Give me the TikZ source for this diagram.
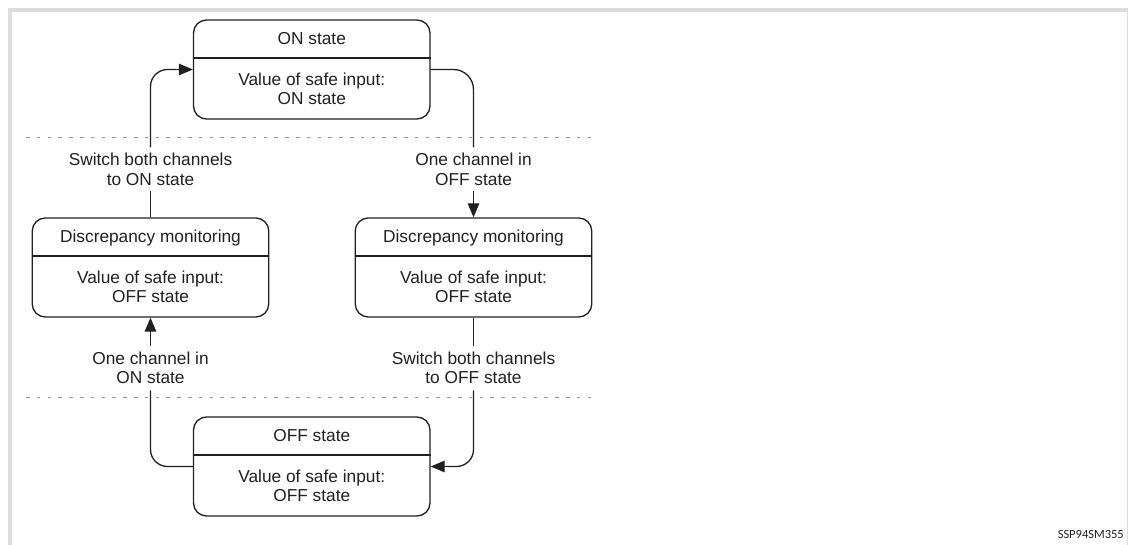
\documentclass[tikz,border=0pt]{standalone}
\usepackage{fontspec}
\setmainfont{Liberation Sans}
\newfontfamily\codefont{Carlito}
\usetikzlibrary{arrows.meta}
\definecolor{ink}{RGB}{35,31,32}
\definecolor{framegray}{RGB}{221,221,221}
\definecolor{dotgray}{RGB}{150,150,150}
\begin{document}
\begin{tikzpicture}[x=1pt,y=-1pt,
  every node/.style={text=ink},
  txt/.style={font=\fontsize{17.3}{19.4}\selectfont, align=center, inner sep=0pt},
  statebox/.style={draw=ink, line width=1.3pt, rounded corners=13pt, minimum width=236.5pt, minimum height=99pt, inner sep=0pt},
  lbl/.style={txt, inner xsep=2pt, inner ysep=5.5pt},
  conn/.style={draw=ink, line width=1.3pt},
  arr/.style={conn, -{Triangle[length=14pt,width=11.5pt]}},
  divider/.style={draw=ink, line width=1.1pt},
  sepline/.style={draw=dotgray, line width=1pt, dash pattern=on 3.5pt off 7.3pt}]
\useasboundingbox (0,0) rectangle (1129,545);
% frame
\fill[framegray] (8,8) rectangle (1128,12);
\fill[framegray] (8,8) rectangle (12,545);
\draw[framegray, line width=1pt] (1127.5,8) -- (1127.5,545);
% separators
\draw[sepline] (26,137.7) -- (596,137.7);
\draw[sepline] (26,397) -- (596,397);
% state boxes
\node[statebox] (on) at (311.75,69.5) {};
\node[statebox] (dl) at (150.5,267.5) {};
\node[statebox] (dr) at (473.5,267.5) {};
\node[statebox] (off) at (311.75,466.5) {};
\draw[divider] (on.west |- 0,58) -- (on.east |- 0,58);
\draw[divider] (dl.west |- 0,256) -- (dl.east |- 0,256);
\draw[divider] (dr.west |- 0,256) -- (dr.east |- 0,256);
\draw[divider] (off.west |- 0,455) -- (off.east |- 0,455);
% box texts
\node[txt, anchor=base] (ontitle) at (311.75,44.5) {ON state};
\node[txt] (onbody) at (311.75,88.75) {Value of safe input:\\ON state};
\node[txt, anchor=base] (dltitle) at (150.5,242.5) {Discrepancy monitoring};
\node[txt] (dlbody) at (150.5,286.75) {Value of safe input:\\OFF state};
\node[txt, anchor=base] (drtitle) at (473.5,242.5) {Discrepancy monitoring};
\node[txt] (drbody) at (473.5,286.75) {Value of safe input:\\OFF state};
\node[txt, anchor=base] (offtitle) at (311.75,441.5) {OFF state};
\node[txt] (offbody) at (311.75,485.75) {Value of safe input:\\OFF state};
% transition labels
\node[lbl] (swon) at (150.5,169.25) {Switch both channels\\to ON state};
\node[lbl] (oneoff) at (473.5,169.25) {One channel in\\OFF state};
\node[lbl, inner ysep=6pt] (oneon) at (150.5,368) {One channel in\\ON state};
\node[lbl, inner ysep=6pt] (swoff) at (473.5,368) {Switch both channels\\to OFF state};
% connectors
\draw[arr, rounded corners=17pt] (swon.north) |- (on.west);
\draw[conn] (dl.north) -- (swon.south);
\draw[conn, rounded corners=20pt] (on.east) -| (oneoff.north);
\draw[arr] (oneoff.south) -- (dr.north);
\draw[conn] (dr.south) -- (swoff.north);
\draw[arr, rounded corners=17pt] (swoff.south) |- (off.east);
\draw[conn, rounded corners=17pt] (off.west) -| (oneon.south);
\draw[arr] (oneon.north) -- (dl.south);
% drawing code
\node[font=\codefont\fontsize{12.5}{14}\selectfont, anchor=base east, inner sep=0pt] (code) at (1124,538) {SSP94SM355};
\end{tikzpicture}
\end{document}
